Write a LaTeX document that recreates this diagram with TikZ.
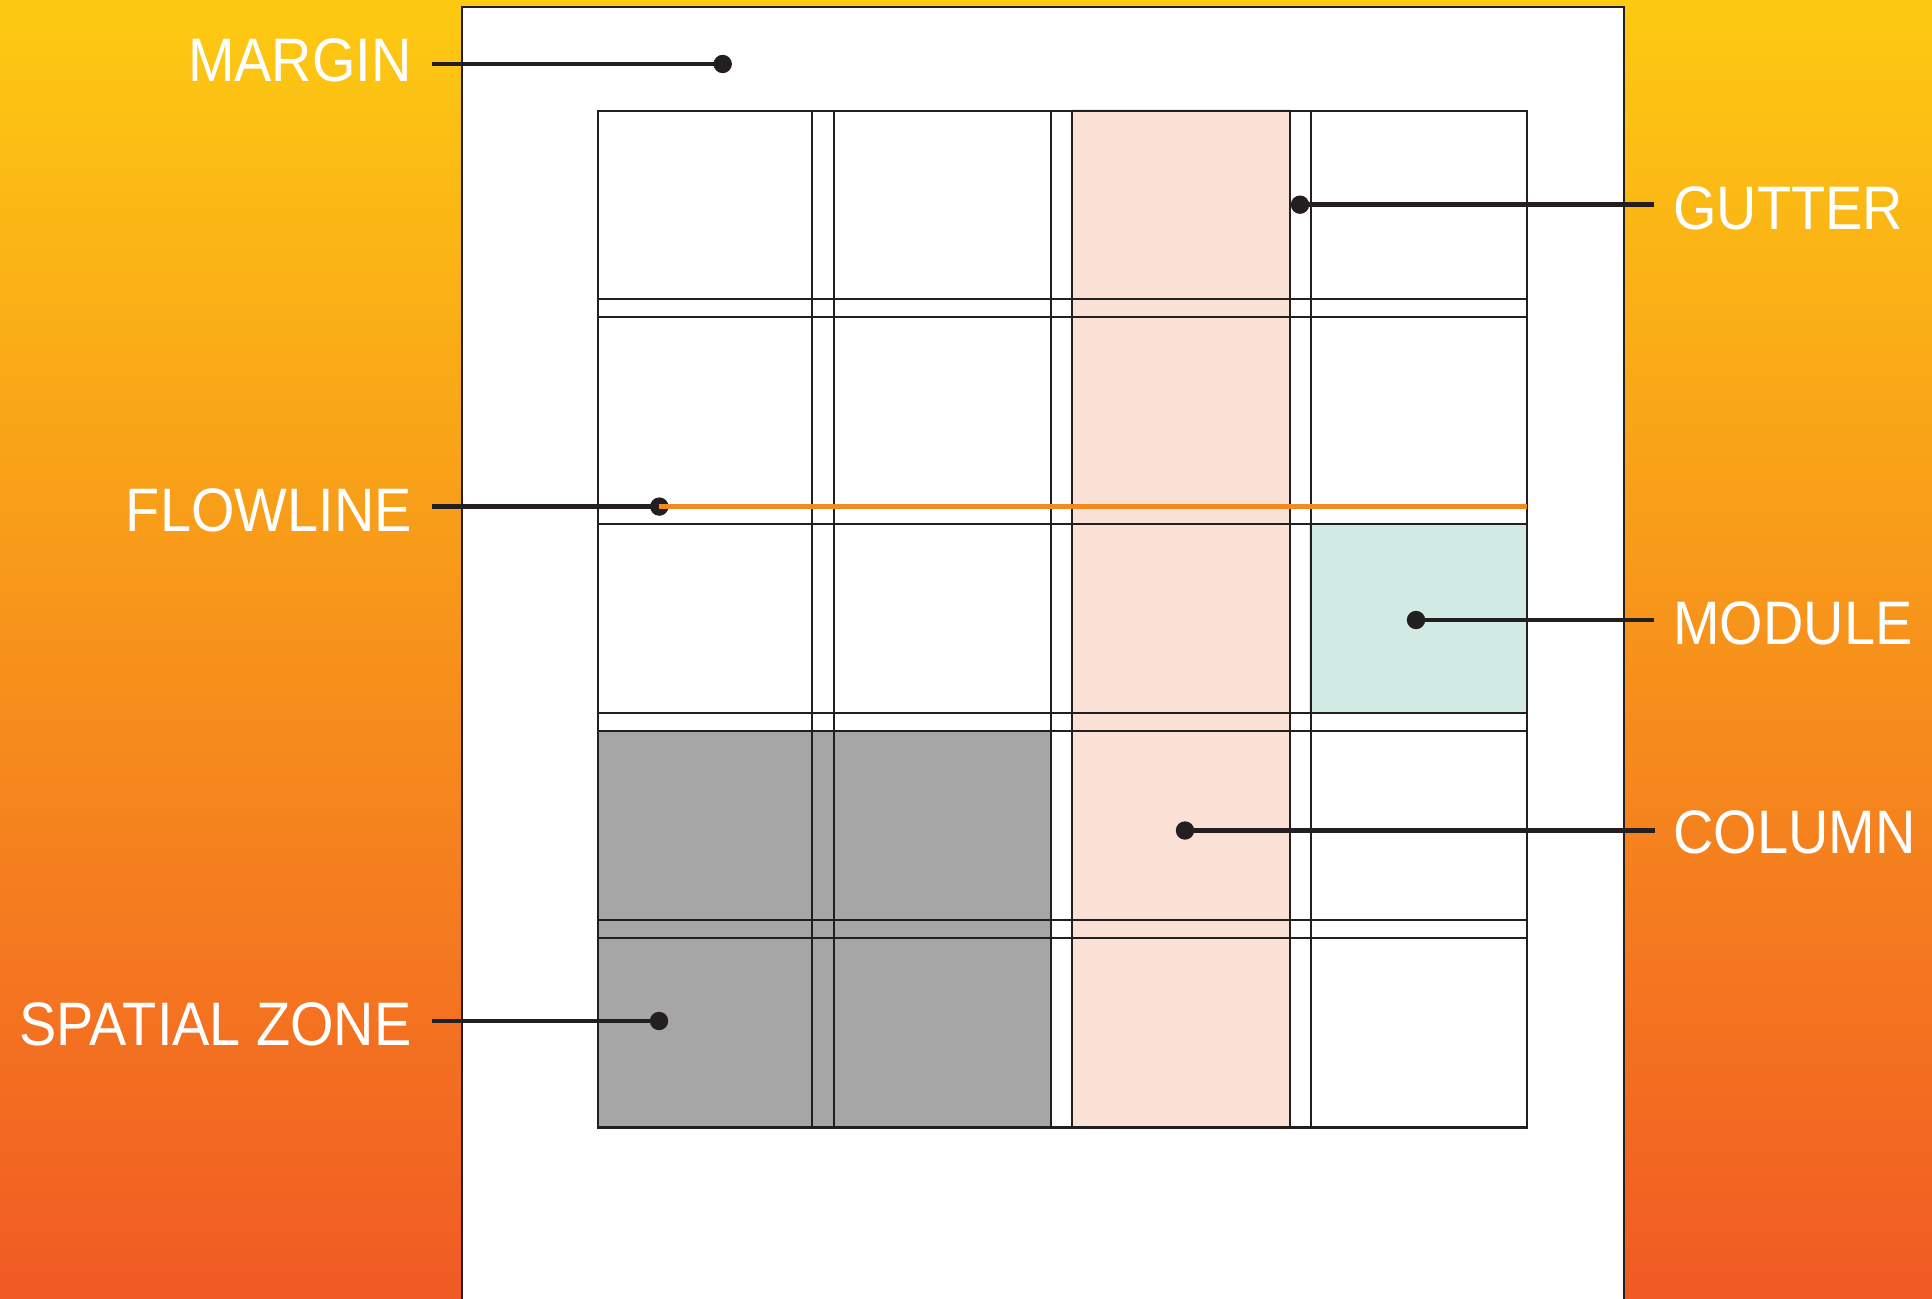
\documentclass[tikz,border=0pt]{standalone}
\usepackage{fontspec}
\setmainfont[FakeStretch=0.91]{Liberation Sans}
\definecolor{ink}{HTML}{231F20}
\definecolor{flow}{HTML}{F28A22}
\definecolor{colpink}{HTML}{FBE0D6}
\definecolor{zonegray}{HTML}{A6A6A6}
\definecolor{modteal}{HTML}{D1EBE4}
\definecolor{bgtop}{HTML}{FDCA12}
\definecolor{bgbot}{HTML}{F15A24}
\tikzset{
  gridline/.style={draw=ink, line width=1pt},
  outerline/.style={draw=ink, line width=1.15pt},
  leader/.style={draw=ink, line width=2.2pt},
  dotmark/.style={circle, fill=ink, inner sep=0pt, minimum size=9.2pt},
  lbl/.style={text=white, inner sep=0pt, font=\fontsize{30.7}{36}\selectfont},
}
\begin{document}
\begin{tikzpicture}[x=0.5pt,y=-0.5pt]
\useasboundingbox (0,0) rectangle (1932,1299);
\clip (0,0) rectangle (1932,1299);
% background gradient
\shade[top color=bgtop, bottom color=bgbot] (0,0) rectangle (1932,1299);
% page
\draw[fill=white, draw=ink, line width=1.35pt] (462,7) rectangle (1624,1320);
% fills
\fill[colpink] (1072,109) rectangle (1290,1127.4);
\fill[zonegray] (598,730.6) rectangle (1051,1127.4);
\fill[modteal] (1309,523.6) rectangle (1527,713.4);
% grid lines
\foreach \x in {812.3,833.5,1051,1072,1290,1311}
  \draw[gridline] (\x,111) -- (\x,1127.4);
\foreach \y in {299.4,316.7,523.6,713.4,730.6,920.4,937.6}
  \draw[gridline] (598,\y) -- (1527,\y);
\draw[outerline] (598,111) rectangle (1527,1127.4);
% dots
\node[dotmark] (mdot) at (722.7,64) {};
\node[dotmark] (gdot) at (1300,204.7) {};
\node[dotmark] (fdot) at (659.3,506.6) {};
\node[dotmark] (modot) at (1416,620) {};
\node[dotmark] (cdot) at (1185,830.5) {};
\node[dotmark] (sdot) at (659,1021) {};
% leader free ends
\coordinate (mstart) at (432,64);
\coordinate (gend) at (1654,204.7);
\coordinate (fstart) at (432,506.6);
\coordinate (fend) at (1527,506.6);
\coordinate (moend) at (1654,620);
\coordinate (cend) at (1655,830.5);
\coordinate (sstart) at (432,1021);
% flowline
\draw[flow, line width=2.4pt] (fdot.center) -- (fend);
% leaders
\draw[leader] (mstart) -- (mdot.center);
\draw[leader] (gdot.center) -- (gend);
\draw[leader] (fstart) -- (fdot.center);
\draw[leader] (modot.center) -- (moend);
\draw[leader] (cdot.center) -- (cend);
\draw[leader] (sstart) -- (sdot.center);
% labels
\node[lbl, anchor=base east] (margin) at (412,81.7) {MARGIN};
\node[lbl, anchor=base east] (flowline) at (412,531) {FLOWLINE};
\node[lbl, anchor=base east] (spatial) at (412,1045) {SPATIAL ZONE};
\node[lbl, anchor=base west] (gutter) at (1673,230) {GUTTER};
\node[lbl, anchor=base west] (module) at (1673,644.4) {MODULE};
\node[lbl, anchor=base west] (column) at (1673,853.8) {COLUMN};
\end{tikzpicture}
\end{document}
